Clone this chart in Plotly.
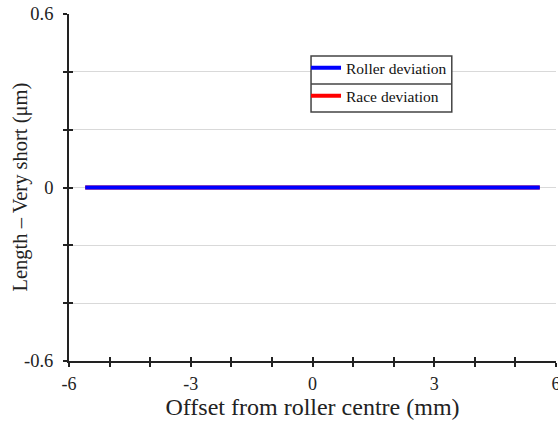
import plotly.graph_objects as go

# Data
offset_mm = [-5.6, -4.0, -2.0, 0.0, 2.0, 4.0, 5.6]
roller_dev = [0, 0, 0, 0, 0, 0, 0]
race_dev = [0, 0, 0, 0, 0, 0, 0]

x_ticks = [-6, -5, -4, -3, -2, -1, 0, 1, 2, 3, 4, 5, 6]
x_labels = ["-6", "", "", "-3", "", "", "0", "", "", "3", "", "", "6"]
y_ticks = [-0.6, -0.4, -0.2, 0, 0.2, 0.4, 0.6]
y_labels = ["-0.6", "", "", "0", "", "", "0.6"]

FONT = "Liberation Serif, Times New Roman, serif"
INK = "#222222"
PAD = "<span style='color:rgba(0,0,0,0)'>-</span>"

fig = go.Figure()
fig.add_trace(go.Scatter(x=offset_mm, y=race_dev, mode="lines", name="Race deviation",
                         legendgroup="b", legendrank=2, line=dict(color="#ff0000", width=4)))
fig.add_trace(go.Scatter(x=offset_mm, y=roller_dev, mode="lines", name="Roller deviation",
                         legendgroup="a", legendrank=1, line=dict(color="#0000ff", width=4)))

tick_marks = dict(showticklabels=False, ticklen=4, tickwidth=1.5, tickcolor=INK,
                  showgrid=False, zeroline=False, showline=False)

fig.update_layout(
    width=558, height=424,
    margin=dict(l=69, r=2, t=14, b=63),
    plot_bgcolor="white", paper_bgcolor="white",
    showlegend=True,
    legend=dict(x=0.4867, y=0.893, xanchor="left", yanchor="top",
                borderwidth=0, bgcolor="rgba(0,0,0,0)",
                font=dict(family=FONT, size=15.5, color="#111"),
                traceorder="grouped", tracegroupgap=5),
    xaxis=dict(range=[-6, 6], tickmode="array", tickvals=x_ticks, ticktext=x_labels,
               showline=True, linecolor=INK, linewidth=1.5, zeroline=False, automargin=False,
               ticks="outside", ticklen=4, tickwidth=1.5, tickcolor=INK,
               tickfont=dict(family=FONT, size=18, color=INK),
               showgrid=False, ticklabeloverflow="allow", ticklabelstandoff=2,
               title=dict(text="Offset from roller centre (mm)",
                          font=dict(family=FONT, size=24, color=INK), standoff=4)),
    yaxis=dict(range=[-0.6, 0.6], tickmode="array", tickvals=y_ticks,
               ticktext=[t + PAD if t else t for t in y_labels],
               showline=True, linecolor=INK, linewidth=1.5, zeroline=False, automargin=False,
               ticks="outside", ticklen=4, tickwidth=1.5, tickcolor=INK,
               tickfont=dict(family=FONT, size=18.5, color=INK),
               showgrid=True, gridcolor="#d9d9d9", gridwidth=1),
    xaxis2=dict(range=[-6, 6], overlaying="x", tickmode="array", tickvals=x_ticks,
                ticks="inside", **tick_marks),
    yaxis2=dict(range=[-0.6, 0.6], overlaying="y", tickmode="array", tickvals=y_ticks,
                ticks="inside", **tick_marks),
)
# y-axis title
fig.add_annotation(text="Length – Very short (μm)", xref="paper", yref="paper", x=0, y=0.5,
                   xanchor="center", yanchor="middle", xshift=-49, textangle=-90, showarrow=False,
                   font=dict(family=FONT, size=20.5, color=INK))

# invisible trace to activate overlay axes (inner halves of the crossing ticks)
fig.add_trace(go.Scatter(x=[None], y=[None], xaxis="x2", yaxis="y2", showlegend=False, hoverinfo="skip"))

# legend frame with row divider
fig.add_shape(type="rect", xref="paper", yref="paper", x0=0.497, x1=0.786, y0=0.7176, y1=0.879,
              fillcolor="white", line=dict(color="#444", width=1.5), layer="above")
fig.add_shape(type="line", xref="paper", yref="paper", x0=0.497, x1=0.786, y0=0.798, y1=0.798,
              line=dict(color="#444", width=1.5), layer="above")

fig.write_html("out.html")
